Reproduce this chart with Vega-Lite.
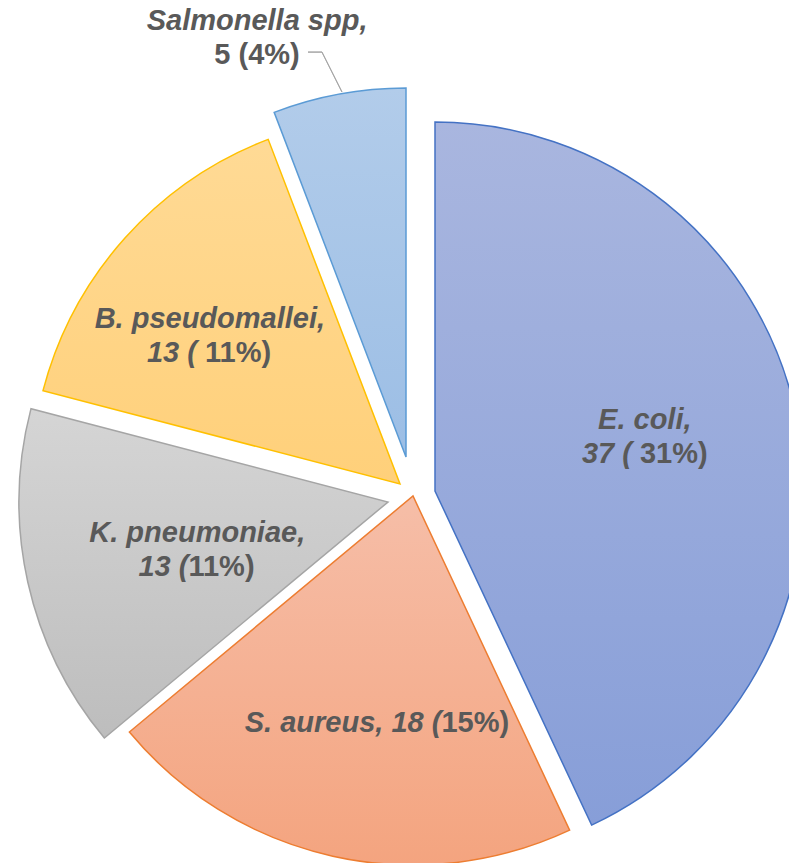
{
  "$schema": "https://vega.github.io/schema/vega-lite/v6.json",
  "autosize": "none",
  "width": 738,
  "height": 738,
  "padding": {"left": 44, "top": 127, "right": 7, "bottom": 0},
  "background": "white",
  "view": {"stroke": null},
  "config": {"text": {"font": "Liberation Sans", "fontSize": 29, "fontWeight": "bold", "fontStyle": "italic", "fill": "#595959", "align": "center", "baseline": "middle"}},
  "data": {"values": [
    {"organism": "E. coli", "count": 37, "line1": "E. coli,", "npart": "37 (", "pct": "31%)"},
    {"organism": "S. aureus", "count": 18, "line1": "", "npart": "S. aureus, 18 (", "pct": "15%)"},
    {"organism": "K. pneumoniae", "count": 13, "line1": "K. pneumoniae,", "npart": "13 (", "pct": "11%)"},
    {"organism": "B. pseudomallei", "count": 13, "line1": "B. pseudomallei,", "npart": "13 (", "pct": "11%)"},
    {"organism": "Salmonella spp", "count": 5, "line1": "Salmonella spp,", "npart": "", "pct": "5 (4%)"}
  ]},
  "transform": [{"stack": "count", "groupby": [], "as": ["start", "end"]}],
  "layer": [
    {
      "transform": [{"filter": "datum.organism === 'E. coli'"}],
      "mark": {"type": "arc", "outerRadius": 369, "xOffset": 22, "yOffset": -5, "stroke": "#4472C4", "strokeWidth": 1.5,
        "fill": {"gradient": "linear", "x1": 0, "y1": 0, "x2": 0, "y2": 1, "stops": [{"offset": 0, "color": "#A9B6DF"}, {"offset": 1, "color": "#879ED8"}]}},
      "encoding": {"theta": {"field": "start", "type": "quantitative", "scale": {"domain": [0, 86]}}, "theta2": {"field": "end"}}
    },
    {
      "transform": [{"filter": "datum.organism === 'S. aureus'"}],
      "mark": {"type": "arc", "outerRadius": 369, "stroke": "#ED7D31", "strokeWidth": 1.5,
        "fill": {"gradient": "linear", "x1": 0, "y1": 0, "x2": 0, "y2": 1, "stops": [{"offset": 0, "color": "#F6BEA8"}, {"offset": 1, "color": "#F4A47F"}]}},
      "encoding": {"theta": {"field": "start", "type": "quantitative", "scale": {"domain": [0, 86]}}, "theta2": {"field": "end"}}
    },
    {
      "transform": [{"filter": "datum.organism === 'K. pneumoniae'"}],
      "mark": {"type": "arc", "outerRadius": 369, "xOffset": -25, "yOffset": 6, "stroke": "#A5A5A5", "strokeWidth": 1.5,
        "fill": {"gradient": "linear", "x1": 0, "y1": 0, "x2": 0, "y2": 1, "stops": [{"offset": 0, "color": "#D5D5D5"}, {"offset": 1, "color": "#BDBDBD"}]}},
      "encoding": {"theta": {"field": "start", "type": "quantitative", "scale": {"domain": [0, 86]}}, "theta2": {"field": "end"}}
    },
    {
      "transform": [{"filter": "datum.organism === 'B. pseudomallei'"}],
      "mark": {"type": "arc", "outerRadius": 369, "xOffset": -13, "yOffset": -12, "stroke": "#FFC000", "strokeWidth": 1.5,
        "fill": {"gradient": "linear", "x1": 0, "y1": 0, "x2": 0, "y2": 1, "stops": [{"offset": 0, "color": "#FFDA95"}, {"offset": 1, "color": "#FFD07A"}]}},
      "encoding": {"theta": {"field": "start", "type": "quantitative", "scale": {"domain": [0, 86]}}, "theta2": {"field": "end"}}
    },
    {
      "transform": [{"filter": "datum.organism === 'Salmonella spp'"}],
      "mark": {"type": "arc", "outerRadius": 369, "xOffset": -7, "yOffset": -39, "stroke": "#5B9BD5", "strokeWidth": 1.5,
        "fill": {"gradient": "linear", "x1": 0, "y1": 0, "x2": 0, "y2": 1, "stops": [{"offset": 0, "color": "#B2CCEA"}, {"offset": 1, "color": "#9CBEE5"}]}},
      "encoding": {"theta": {"field": "start", "type": "quantitative", "scale": {"domain": [0, 86]}}, "theta2": {"field": "end"}}
    },
    {
      "transform": [{"filter": "datum.organism === 'Salmonella spp'"}],
      "mark": {"type": "arc", "innerRadius": 100, "outerRadius": 144.7, "thetaOffset": -0.0995, "theta2Offset": -0.0995, "xOffset": -26.2, "yOffset": -314.6, "stroke": "#A6A6A6", "strokeWidth": 1, "fillOpacity": 0},
      "encoding": {"theta": {"field": "start", "type": "quantitative", "scale": {"domain": [0, 86]}}, "theta2": {"field": "start"}}
    },
    {
      "transform": [{"filter": "datum.organism === 'B. pseudomallei'"}],
      "mark": {"type": "arc", "innerRadius": 100, "outerRadius": 114, "thetaOffset": -0.2566, "theta2Offset": -0.2566, "xOffset": 9, "yOffset": -444, "stroke": "#A6A6A6", "strokeWidth": 1, "fillOpacity": 0},
      "encoding": {"theta": {"field": "start", "type": "quantitative", "scale": {"domain": [0, 86]}}, "theta2": {"field": "start"}}
    },
    {
      "encoding": {
        "theta": {"field": "count", "type": "quantitative", "stack": true},
        "order": {"field": "start", "type": "quantitative"},
        "detail": {"field": "organism", "type": "nominal"}
      },
      "layer": [
        {"mark": {"type": "text", "radius": 238.5, "dx": -1, "dy": -24.5},
         "encoding": {"text": {"condition": {"test": "datum.organism === 'E. coli'", "field": "line1"}, "value": ""}}},
        {"mark": {"type": "text", "radius": 238.5, "dx": -13.9, "dy": 9.5, "align": "right"},
         "encoding": {"text": {"condition": {"test": "datum.organism === 'E. coli'", "field": "npart"}, "value": ""}}},
        {"mark": {"type": "text", "radius": 238.5, "dx": -5.8, "dy": 9.5, "align": "left", "fontStyle": "normal"},
         "encoding": {"text": {"condition": {"test": "datum.organism === 'E. coli'", "field": "pct"}, "value": ""}}},

        {"mark": {"type": "text", "radius": 230, "dx": 78.4, "dy": 3, "align": "right"},
         "encoding": {"text": {"condition": {"test": "datum.organism === 'S. aureus'", "field": "npart"}, "value": ""}}},
        {"mark": {"type": "text", "radius": 230, "dx": 78.4, "dy": 3, "align": "left", "fontStyle": "normal"},
         "encoding": {"text": {"condition": {"test": "datum.organism === 'S. aureus'", "field": "pct"}, "value": ""}}},

        {"mark": {"type": "text", "radius": 220, "dx": -1, "dy": -11},
         "encoding": {"text": {"condition": {"test": "datum.organism === 'K. pneumoniae'", "field": "line1"}, "value": ""}}},
        {"mark": {"type": "text", "radius": 220, "dx": -9.8, "dy": 23, "align": "right"},
         "encoding": {"text": {"condition": {"test": "datum.organism === 'K. pneumoniae'", "field": "npart"}, "value": ""}}},
        {"mark": {"type": "text", "radius": 220, "dx": -9.8, "dy": 23, "align": "left", "fontStyle": "normal"},
         "encoding": {"text": {"condition": {"test": "datum.organism === 'K. pneumoniae'", "field": "pct"}, "value": ""}}},

        {"mark": {"type": "text", "radius": 258, "dx": -11, "dy": -5},
         "encoding": {"text": {"condition": {"test": "datum.organism === 'B. pseudomallei'", "field": "line1"}, "value": ""}}},
        {"mark": {"type": "text", "radius": 258, "dx": -23.9, "dy": 29, "align": "right"},
         "encoding": {"text": {"condition": {"test": "datum.organism === 'B. pseudomallei'", "field": "npart"}, "value": ""}}},
        {"mark": {"type": "text", "radius": 258, "dx": -15.8, "dy": 29, "align": "left", "fontStyle": "normal"},
         "encoding": {"text": {"condition": {"test": "datum.organism === 'B. pseudomallei'", "field": "pct"}, "value": ""}}},

        {"mark": {"type": "text", "radius": 478.6, "dx": -69, "dy": -4.5},
         "encoding": {"text": {"condition": {"test": "datum.organism === 'Salmonella spp'", "field": "line1"}, "value": ""}}},
        {"mark": {"type": "text", "radius": 478.6, "dx": -69, "dy": 29.5, "fontStyle": "normal"},
         "encoding": {"text": {"condition": {"test": "datum.organism === 'Salmonella spp'", "field": "pct"}, "value": ""}}}
      ]
    }
  ]
}
